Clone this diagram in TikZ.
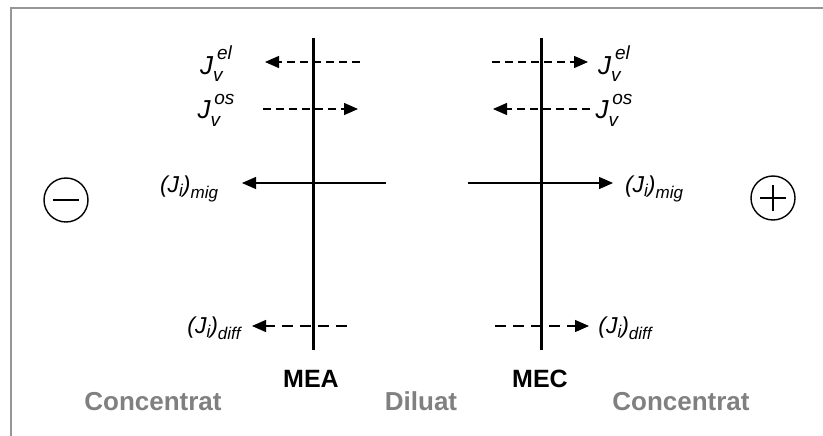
\documentclass[tikz,border=0pt]{standalone}
\usepackage{fontspec}
\setmainfont{Liberation Sans}
\usetikzlibrary{arrows.meta}
\definecolor{framegray}{RGB}{150,150,150}
\definecolor{txtgray}{RGB}{128,128,128}
\newcommand{\JvLab}[1]{{\fontsize{26}{26}\selectfont\itshape J\rlap{\raisebox{-0.3em}{\fontsize{19}{19}\selectfont v}}\raisebox{0.55em}{\fontsize{19}{19}\selectfont\hspace{0.2em}#1}}}
\newcommand{\JiLab}[1]{{\fontsize{23}{23}\selectfont\itshape (J\raisebox{-0.2em}{\fontsize{17}{17}\selectfont i})\raisebox{-0.28em}{\fontsize{17}{17}\selectfont #1}}}
\begin{document}
\begin{tikzpicture}[x=1pt,y=-1pt,
  membrane/.style={line width=3pt,black},
  flux/.style={line width=1.4pt,-{Triangle[length=14pt,width=12pt]}},
  vdash/.style={flux,dash pattern=on 8pt off 5pt},
  ddash/.style={flux,dash pattern=on 11pt off 7pt},
  lab/.style={inner sep=0pt,anchor=center},
  memlab/.style={inner sep=0pt,anchor=base,font=\bfseries\fontsize{25}{25}\selectfont},
  zone/.style={inner sep=0pt,anchor=base,text=txtgray,font=\bfseries\fontsize{26}{26}\selectfont},
  pole/.style={circle,draw,line width=1.4pt,minimum size=44pt,inner sep=0pt},
  sign/.style={line width=1.4pt}
]
\useasboundingbox (0,0) rectangle (823,436);
% frame
\draw[framegray,line width=2pt] (11,436) -- (11,8) -- (823,8);

% membranes
\coordinate (meaTop) at (313,38);
\coordinate (meaBot) at (313,350);
\coordinate (mecTop) at (541,38);
\coordinate (mecBot) at (541,350);
\draw[membrane] (meaTop) -- (meaBot);
\draw[membrane] (mecTop) -- (mecBot);

% left side fluxes
\coordinate (lel1) at (360,62);  \coordinate (lel2) at (265,62);
\coordinate (los1) at (263,109); \coordinate (los2) at (358,109);
\coordinate (lmig1) at (386,183);\coordinate (lmig2) at (242,183);
\coordinate (ldif1) at (347,326);\coordinate (ldif2) at (252,326);
\draw[vdash] (lel1) -- (lel2);
\draw[vdash] (los1) -- (los2);
\draw[flux] (lmig1) -- (lmig2);
\draw[ddash] (ldif1) -- (ldif2);

% right side fluxes
\coordinate (rel1) at (492,62);  \coordinate (rel2) at (588,62);
\coordinate (ros1) at (590,109); \coordinate (ros2) at (493,109);
\coordinate (rmig1) at (468,183);\coordinate (rmig2) at (613,183);
\coordinate (rdif1) at (495,326);\coordinate (rdif2) at (589,326);
\draw[vdash] (rel1) -- (rel2);
\draw[vdash] (ros1) -- (ros2);
\draw[flux] (rmig1) -- (rmig2);
\draw[ddash] (rdif1) -- (rdif2);

% labels
\node[lab] (tlel) at (216,64) {\JvLab{el}};
\node[lab] (tlos) at (216,110) {\JvLab{os}};
\node[lab] (tlmig) at (189,189) {\JiLab{mig}};
\node[lab] (tldif) at (214,328) {\JiLab{diff}};
\node[lab] (trel) at (614,64) {\JvLab{el}};
\node[lab] (tros) at (614,110) {\JvLab{os}};
\node[lab] (trmig) at (654,189) {\JiLab{mig}};
\node[lab] (trdif) at (625,328) {\JiLab{diff}};

% poles
\node[pole] (minus) at (66,200) {};
\draw[sign] ([xshift=-13pt]minus.center) -- ([xshift=13pt]minus.center);
\node[pole] (plus) at (773,198) {};
\draw[sign] ([xshift=-13pt]plus.center) -- ([xshift=13pt]plus.center);
\draw[sign] ([yshift=-13pt]plus.center) -- ([yshift=13pt]plus.center);

% membrane names
\node[memlab] (mea) at (311,387) {MEA};
\node[memlab] (mec) at (540,387) {MEC};

% zones
\node[zone] (conc1) at (153,410) {Concentrat};
\node[zone] (dil) at (421,410) {Diluat};
\node[zone] (conc2) at (681,410) {Concentrat};
\end{tikzpicture}
\end{document}
